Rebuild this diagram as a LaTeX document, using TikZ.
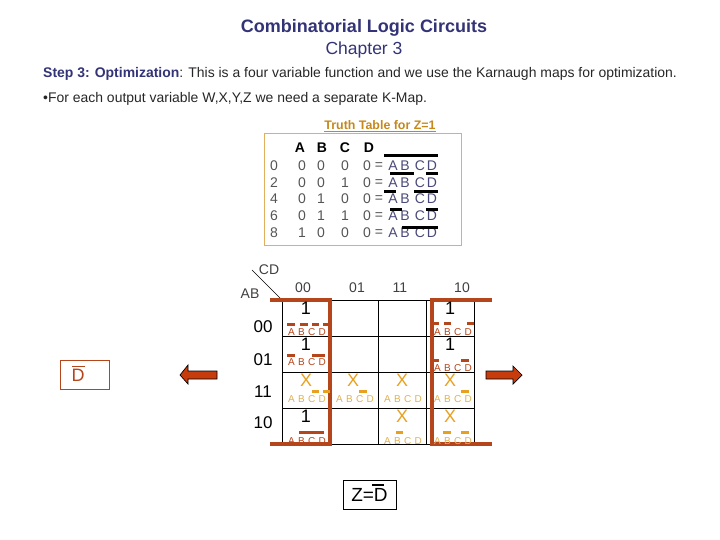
\documentclass[tikz,border=0pt]{standalone}
\usepackage{fontspec}
\setmainfont{Liberation Sans}
\definecolor{rust}{HTML}{B5451B}
\definecolor{arrowc}{HTML}{C63C0C}
\definecolor{gold}{HTML}{E8A020}
\definecolor{paleg}{HTML}{E3B04B}
\definecolor{navy}{HTML}{333377}
\definecolor{tabg}{HTML}{555555}
\definecolor{framec}{HTML}{E0B060}
\tikzset{x=1pt,y=-1pt,
 tab/.style={inner sep=0pt,font=\fontsize{14}{15}\selectfont,text=tabg},
 grid/.style={draw=black,line width=0.7pt},
 bracket/.style={draw=rust,line width=3.2pt},
 minilab/.style={inner sep=0pt,font=\fontsize{10}{11}\selectfont,text=#1},
 bar/.style={draw=#1,line width=3pt},
 bar/.default=black,
 block/.style={draw=black,fill=arrowc,line width=0.7pt}}
\newcommand{\abcd}[4]{\node[minilab=#3] (#4) at (#1,#2) {A\,\,B\,\,C\,\,D};}
\begin{document}
\begin{tikzpicture}
\useasboundingbox (0,0) rectangle (720,540);
\node[inner sep=0pt,font=\fontsize{18}{19}\selectfont\bfseries,text=navy] (t1) at (364,28) {Combinatorial Logic Circuits};
\node[inner sep=0pt,font=\fontsize{17.5}{19}\selectfont,text=navy] (t2) at (364,49.5) {Chapter 3};
\node[inner sep=0pt,anchor=west,font=\fontsize{13.95}{15}\selectfont,text=black!85] (s3) at (43,73.5) {\textcolor{navy}{\textbf{Step 3: Optimization}}: This is a four variable function and we use the Karnaugh maps for optimization.};
\node[inner sep=0pt,anchor=west,font=\fontsize{13.95}{15}\selectfont,text=black!85] (s4) at (43,98.5) {•For each output variable W,X,Y,Z we need a separate K-Map.};
\node[inner sep=0pt,font=\fontsize{12.4}{13}\selectfont,text=gold!85!black] (tt) at (380,126) {\underline{\textbf{Truth Table for Z=1}}};
\node[draw=framec,line width=0.8pt,minimum width=197pt,minimum height=112pt,inner sep=0pt] (frame) at (362.5,189) {};
\foreach \n/\x/\t in {ha/300/A,hb/322/B,hc/345/C,hd/369/D}
  \node[inner sep=0pt,font=\fontsize{14}{15}\selectfont\bfseries] (\n) at (\x,148) {\t};
\foreach \y/\i/\a/\b/\c/\d in {166/0/0/0/0/0,183/2/0/0/1/0,199/4/0/1/0/0,216/6/0/1/1/0,233/8/1/0/0/0}{
  \node[tab] (r\i) at (274,\y) {\i};
  \node[tab] (ra\i) at (302,\y) {\a};
  \node[tab] (rb\i) at (321,\y) {\b};
  \node[tab] (rc\i) at (345,\y) {\c};
  \node[tab] (rd\i) at (367,\y) {\d};
  \node[tab] (eq\i) at (379,\y) {=};
  \foreach \l/\xx in {A/393,B/405,C/420,D/432}
    \node[tab,text=navy!70!gray] (l\l\i) at (\xx,\y) {\l};
}
\draw[bar] (384,156) -- (438,156);
\draw[bar] (390,174) -- (414,174) (426,174) -- (438,174);
\draw[bar] (384,192) -- (396,192) (414,192) -- (438,192);
\draw[bar] (390,210) -- (402,210) (426,210) -- (438,210);
\draw[bar] (402,228) -- (438,228);
\node[inner sep=0pt,font=\fontsize{14}{15}\selectfont,text=black!75] (cd) at (269,270) {CD};
\node[inner sep=0pt,font=\fontsize{14}{15}\selectfont,text=black!75] (ab) at (250,294) {AB};
\coordinate (dg1) at (252,270);
\coordinate (dg2) at (282,300);
\draw[black,line width=0.5pt] (dg1) -- (dg2);
\foreach \n/\x/\t in {c0/303/00,c1/357/01,c2/400/11,c3/462/10}
  \node[inner sep=0pt,font=\fontsize{14}{15}\selectfont,text=black!75] (\n) at (\x,288) {\t};
\foreach \n/\y/\t in {r00/327/00,r01/360/01,r11/392/11,r10/423/10}
  \node[inner sep=0pt,font=\fontsize{17}{18}\selectfont] (\n) at (263,\y) {\t};
\draw[grid] (282.5,300) rectangle (474.5,444);
\draw[grid] (330.5,300) -- (330.5,444) (378.5,300) -- (378.5,444) (426,300) -- (426,444);
\draw[grid] (282.5,336) -- (474.5,336) (282.5,372) -- (474.5,372) (282.5,408) -- (474.5,408);
\draw[bracket] (270,300) -- (330,300) -- (330,444) -- (270,444);
\draw[bracket] (492,300) -- (432,300) -- (432,444) -- (492,444);
% cells
\foreach \n/\x/\y/\t/\c in {a/306/308/1/black,b/450/308/1/black,c/306/344/1/black,d/450/344/1/black,f/306/380/X/gold,g/353/380/X/gold,h/402/380/X/gold,i/450/380/X/gold,j/306/416/1/black,k/402/416/X/gold,l/450/416/X/gold}
  \node[inner sep=0pt,font=\fontsize{18}{19}\selectfont,text=\c] (\n) at (\x,\y) {\t};
\foreach \n/\x/\y/\c in {ma/307/332/rust,mb/453/332/rust,mc/307/362/rust,md/453/368/rust,mf/307/399/paleg,mg/355/399/paleg,mh/403/399/paleg,mi/453/399/paleg,mj/307/441/rust,mk/403/441/paleg,ml/453/441/paleg}
  \abcd{\x}{\y}{\c}{\n}
\draw[bar=rust] (287,324) -- (295,324) (300,324) -- (308,324) (312,324) -- (319,324) (323,324) -- (331,324);
\draw[bar=rust] (433,323) -- (439,323) (444,323) -- (451,323) (467,323) -- (474,323);
\draw[bar=rust] (287,355) -- (295,355) (312,355) -- (325,355);
\draw[bar=rust] (433,360) -- (439,360) (461,360) -- (469,360);
\draw[bar=gold] (312,391) -- (319,391) (323,391) -- (330,391);
\draw[bar=gold] (359,391) -- (367,391);
\draw[bar=gold] (461,391) -- (469,391);
\draw[bar=rust] (299,432) -- (324,432);
\draw[bar=gold] (396,432) -- (403,432);
\draw[bar=gold] (443,432) -- (451,432) (461,432) -- (469,432);
\node[draw=rust,line width=0.8pt,minimum width=49pt,minimum height=29pt,inner sep=0pt] (dbox) at (84.5,374.5) {};
\node[inner sep=0pt,font=\fontsize{18}{19}\selectfont,text=rust] (dl) at (78,375) {D};
\draw[rust,line width=1pt] (72,366) -- (85,366);
\draw[block] (217,371) -- (188,371) -- (188,365) -- (180,375) -- (188,384) -- (188,379) -- (217,379) -- cycle;
\draw[block] (486,371) -- (513,371) -- (513,366) -- (522,375) -- (513,384) -- (513,379) -- (486,379) -- cycle;
\node[draw=black,line width=0.8pt,minimum width=53pt,minimum height=29pt,inner sep=0pt,font=\fontsize{19}{20}\selectfont] (zbox) at (369.5,494.5) {Z=D\hspace{5pt}};
\draw[black,line width=2.4pt] (372,485) -- (384,485);
\end{tikzpicture}
\end{document}
